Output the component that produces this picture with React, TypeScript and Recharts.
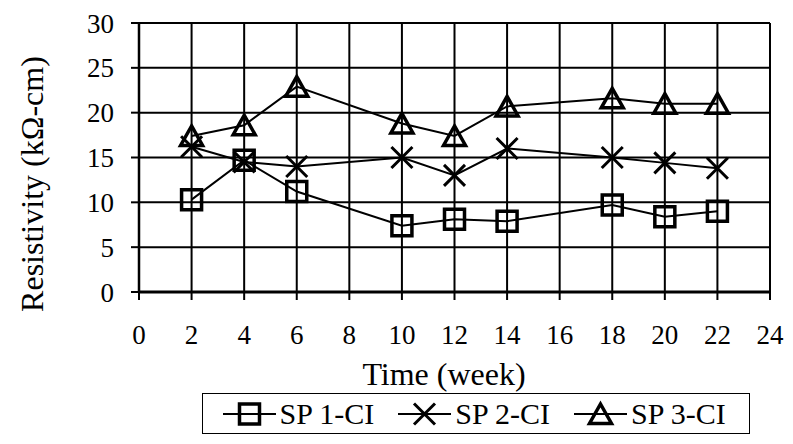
import { LineChart, Line, XAxis, YAxis, CartesianGrid } from 'recharts'

// weeks at which resistivity was measured
const weeks = [2, 4, 6, 10, 12, 14, 18, 20, 22]
const sp1 = [10.3, 14.7, 11.2, 7.4, 8.1, 7.9, 9.7, 8.4, 9.0]
const sp2 = [16.2, 14.5, 14.0, 15.0, 13.0, 16.0, 15.0, 14.4, 13.8]
const sp3 = [17.4, 18.6, 22.9, 18.8, 17.4, 20.7, 21.6, 21.0, 21.0]

const seriesNames = ['SP 1-CI', 'SP 2-CI', 'SP 3-CI']
const xTicks = [0, 2, 4, 6, 8, 10, 12, 14, 16, 18, 20, 22, 24]
const yTicks = [0, 5, 10, 15, 20, 25, 30]

const data = weeks.map((week, i) => ({ week, sp1: sp1[i], sp2: sp2[i], sp3: sp3[i] }))

const FONT = '"Liberation Serif", "Times New Roman", serif'

type Shape = 'square' | 'cross' | 'triangle'

function markerPath(shape: Shape, cx: number, cy: number) {
  if (shape === 'square') return `M${cx - 10},${cy - 10}h20v20h-20z`
  if (shape === 'cross') return `M${cx - 10.5},${cy - 10.5}L${cx + 10.5},${cy + 10.5}M${cx + 10.5},${cy - 10.5}L${cx - 10.5},${cy + 10.5}`
  return `M${cx},${cy - 10}L${cx + 11},${cy + 9.5}L${cx - 11},${cy + 9.5}z`
}

const makeDot = (shape: Shape) => (props: any) => {
  const { cx, cy, index } = props
  if (cx == null || cy == null) return <g key={`d-${shape}-${index}`} />
  return (
    <path
      key={`d-${shape}-${index}`}
      d={markerPath(shape, cx, cy)}
      fill="none"
      stroke="#000"
      strokeWidth={shape === 'cross' ? 3 : 3.5}
    />
  )
}

const shapes: Shape[] = ['square', 'cross', 'triangle']

function LegendIcon({ shape }: { shape: Shape }) {
  return (
    <svg width={53} height={30} style={{ display: 'block' }}>
      <line x1={0} y1={15} x2={53} y2={15} stroke="#000" strokeWidth={2} />
      <path d={markerPath(shape, 26.5, 15)} fill="none" stroke="#000" strokeWidth={shape === 'cross' ? 3 : 3.5} />
    </svg>
  )
}

export default function App() {
  return (
    <div style={{ position: 'relative', width: 793, height: 444, background: '#fff', fontFamily: FONT }}>
      <style>{`body{margin:0} svg text{font-family:${FONT}}`}</style>
      <LineChart width={793} height={444} data={data} margin={{ top: 23, right: 23, left: 0, bottom: 0 }}>
        <CartesianGrid stroke="#000" strokeWidth={2} />
        <XAxis
          dataKey="week"
          type="number"
          domain={[0, 24]}
          ticks={xTicks}
          interval={0}
          height={152}
          tickSize={8}
          tickMargin={25}
          axisLine={{ stroke: '#000', strokeWidth: 3 }}
          tickLine={{ stroke: '#000', strokeWidth: 2 }}
          tick={{ fill: '#000', fontSize: 27 }}
          label={{
            content: () => (
              <text x={444} y={385} textAnchor="middle" fill="#000" fontSize={32}>
                Time (week)
              </text>
            ),
          }}
        />
        <YAxis
          type="number"
          domain={[0, 30]}
          ticks={yTicks}
          interval={0}
          width={139}
          tickSize={8}
          tickMargin={17}
          axisLine={{ stroke: '#000', strokeWidth: 2.5 }}
          tickLine={{ stroke: '#000', strokeWidth: 2 }}
          tick={{ fill: '#000', fontSize: 27 }}
          label={{
            content: () => (
              <text transform="rotate(-90)" x={-184} y={43} textAnchor="middle" fill="#000" fontSize={32}>
                Resistivity (kΩ-cm)
              </text>
            ),
          }}
        />
        {['sp1', 'sp2', 'sp3'].map((key, i) => (
          <Line
            key={key}
            dataKey={key}
            name={seriesNames[i]}
            type="linear"
            stroke="#000"
            strokeWidth={2}
            dot={makeDot(shapes[i])}
            activeDot={false}
            isAnimationActive={false}
          />
        ))}
      </LineChart>
      <div
        style={{
          position: 'absolute',
          left: 202,
          top: 393,
          width: 548,
          height: 41,
          boxSizing: 'border-box',
          border: '1.5px solid #000',
          display: 'flex',
          alignItems: 'center',
          paddingLeft: 19.5,
          fontSize: 30,
          lineHeight: '30px',
          color: '#000',
          whiteSpace: 'nowrap',
        }}
      >
        {seriesNames.map((name, i) => (
          <div key={name} style={{ display: 'flex', alignItems: 'center', marginRight: 24 }}>
            <LegendIcon shape={shapes[i]} />
            <span style={{ marginLeft: 4 }}>{name}</span>
          </div>
        ))}
      </div>
    </div>
  )
}
